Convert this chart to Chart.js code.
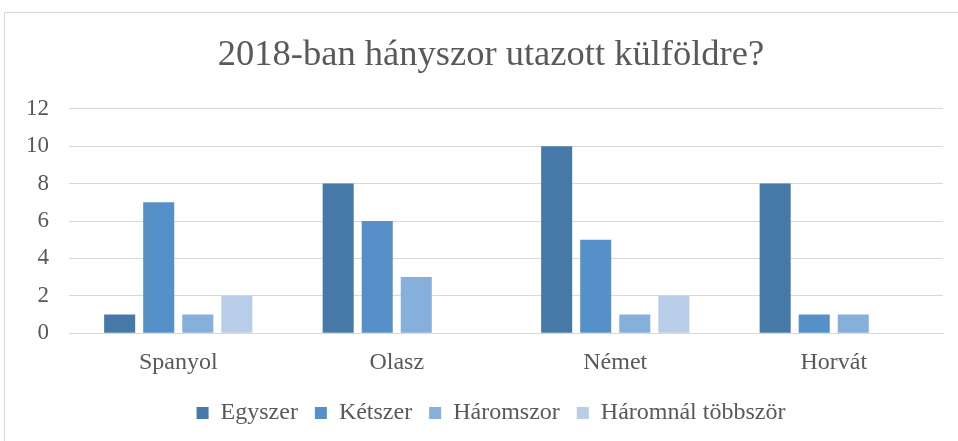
<!DOCTYPE html>
<html>
<head>
<meta charset="utf-8">
<script src="https://cdn.jsdelivr.net/npm/chart.js@4"></script>
<style>
  body { margin: 0; background: #fff; }
  #wrap { position: relative; width: 958px; height: 441px; overflow: hidden; }
  #frame { position: absolute; left: 4px; top: 12px; width: 1100px; height: 600px; border: 1px solid #d9d9d9; }
  canvas { position: absolute; left: 0; top: 0; }
</style>
</head>
<body>
<div id="wrap">
  <div id="frame"></div>
  <!-- the chart box runs past the right edge of the picture, so the canvas is wider and clipped -->
  <canvas id="myChart" width="990" height="441"></canvas>
</div>
<script>
var categories = ["Spanyol", "Olasz", "Német", "Horvát"];
var seriesNames = ["Egyszer", "Kétszer", "Háromszor", "Háromnál többször"];
var egyszer = [1, 8, 10, 8];
var ketszer = [7, 6, 5, 1];
var haromszor = [1, 3, 1, 1];
var tobbszor = [2, 0, 2, 0];
var colors = ["#4678a8", "#5590c8", "#87afdc", "#b8cde8"];

var serif = "'Liberation Serif', 'Times New Roman', serif";
var grey = "#595959";

var ctx = document.getElementById("myChart").getContext('2d');

var chartData = {
    labels: categories,
    datasets: [egyszer, ketszer, haromszor, tobbszor].map(function (d, i) {
        return {
            label: seriesNames[i],
            data: d,
            backgroundColor: colors[i],
            categoryPercentage: 0.715,
            barPercentage: 0.795
        };
    })
};

var myChart = new Chart(ctx, {
    type: 'bar',
    data: chartData,
    options: {
        responsive: false,
        animation: false,
        layout: { padding: { left: 6, right: 14, top: 12, bottom: 6 } },
        plugins: {
            title: {
                display: true,
                text: "2018-ban hányszor utazott külföldre?",
                color: grey,
                font: { family: serif, size: 36.5, weight: 'normal' },
                padding: { top: 22, bottom: 31 }
            },
            legend: {
                position: 'bottom',
                labels: {
                    color: grey,
                    font: { family: serif, size: 24 },
                    boxWidth: 12,
                    boxHeight: 12,
                    padding: 17
                }
            },
            tooltip: { enabled: false }
        },
        scales: {
            x: {
                grid: { display: false },
                border: { color: "#d9d9d9", width: 1 },
                ticks: { color: grey, font: { family: serif, size: 24 }, padding: 7 }
            },
            y: {
                min: 0,
                max: 12,
                ticks: { stepSize: 2, color: grey, font: { family: serif, size: 23 }, padding: 20 },
                grid: { color: "#d9d9d9", drawTicks: false },
                border: { display: false }
            },
            // empty right-hand space so the plot stops where the reference does
            yRight: {
                position: 'right',
                grid: { display: false },
                border: { display: false },
                ticks: { display: false },
                afterFit: function (scale) { scale.width = 33; }
            }
        }
    }
});
</script>
</body>
</html>
